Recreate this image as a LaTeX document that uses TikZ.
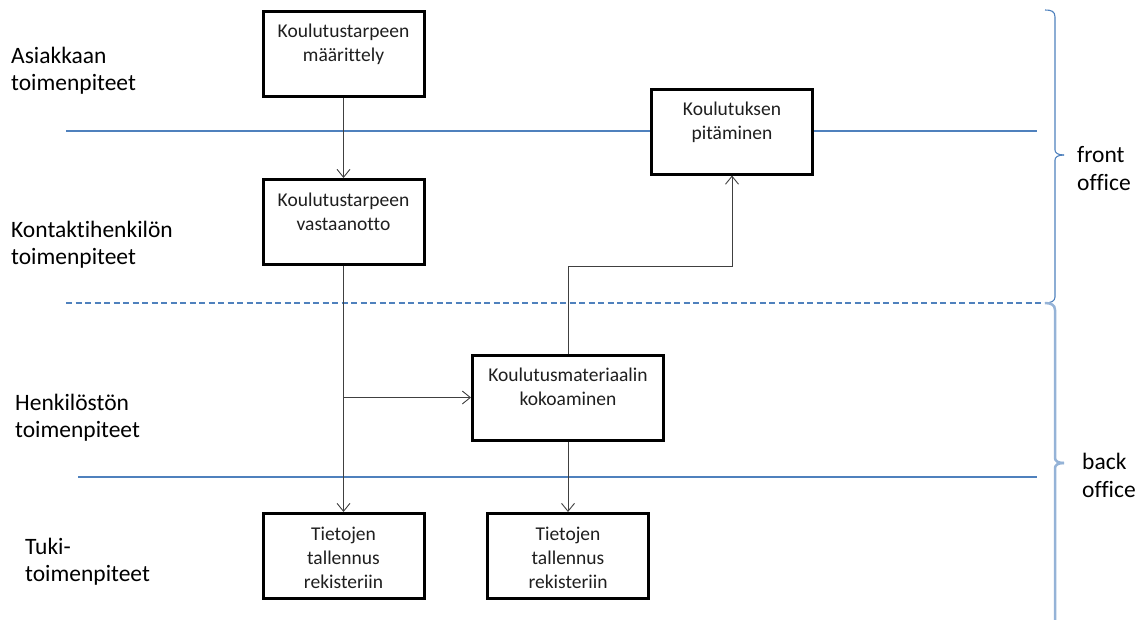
\documentclass[tikz,border=0pt]{standalone}
\usepackage{fontspec}
\setmainfont[Ligatures=CommonOff]{Carlito}
\usetikzlibrary{arrows.meta,calc}
\definecolor{laneblue}{HTML}{4F81BD}
\definecolor{lightlane}{HTML}{95B3D7}
\definecolor{flowgray}{HTML}{404040}
\definecolor{inktext}{HTML}{1F1F1F}
\begin{document}
\begin{tikzpicture}[x=1pt,y=-1pt,
  stepbox/.style={draw=black, line width=3pt, fill=white, inner sep=0pt,
    minimum height=85pt, minimum width=#1, text width=#1, align=center,
    text=inktext, font=\fontsize{19.5}{24}\selectfont,
    text height=18pt, text depth=50pt},
  stepbox/.default=161pt,
  lane/.style={draw=laneblue, line width=1.1pt},
  flow/.style={draw=flowgray, line width=0.9pt,
    -{Straight Barb[length=8pt,width=13pt,line width=0.9pt]}},
  lanelabel/.style={anchor=base west, align=left, text width=220pt,
    inner sep=0pt, font=\fontsize{23.5}{27}\selectfont},
  sidelabel/.style={anchor=base west, align=left, text width=70pt,
    inner sep=0pt, font=\fontsize{23.5}{28.5}\selectfont},
  frontbrace/.style={draw=laneblue, line width=1.1pt},
  backbrace/.style={draw=lightlane, line width=2.5pt}]

\useasboundingbox (0,0) rectangle (1145,619);

% lane separators
\draw[lane] (66,131) -- (1037,131);
\draw[lane, dash pattern=on 6pt off 3.5pt] (66,303) -- (1045,303);
\draw[lane] (78,477) -- (1037,477);

% braces on the right
\draw[frontbrace] (1045,10) .. controls (1051,10) and (1055,11) .. (1055,17)
  -- (1055,150) .. controls (1055,153) and (1058,155) .. (1064,155);
\draw[frontbrace] (1064,155) .. controls (1058,155) and (1055,157) .. (1055,160)
  -- (1055,297) .. controls (1055,301) and (1051,303) .. (1045,303);
\draw[backbrace] (1045,303) .. controls (1051,303) and (1055,305) .. (1055,310)
  -- (1055,458) .. controls (1055,461) and (1058,463) .. (1064,463);
\draw[backbrace] (1064,463) .. controls (1058,463) and (1055,465) .. (1055,468)
  -- (1055,630);

% lane labels
\node[lanelabel] (l1) at (11,63) {Asiakkaan\\toimenpiteet};
\node[lanelabel] (l2) at (11,237) {Kontaktihenkilön\\toimenpiteet};
\node[lanelabel] (l3) at (15,410) {Henkilöstön\\toimenpiteet};
\node[lanelabel] (l4) at (25,554) {Tuki-\\toimenpiteet};
\node[sidelabel] (fo) at (1077,162) {front\\office};
\node[sidelabel] (bo) at (1082,469) {back\\office};

% process steps
\node[stepbox] (b1) at (343.5,53.5) {Koulutustarpeen\\määrittely};
\node[stepbox] (b2) at (343.5,222) {Koulutustarpeen\\vastaanotto};
\node[stepbox] (b3) at (732,131.5) {Koulutuksen\\pitäminen};
\node[stepbox=191pt] (b4) at (568,397.5) {Koulutusmateriaalin\\kokoaminen};
\node[stepbox] (b5) at (343.5,556) {Tietojen\\tallennus\\rekisteriin};
\node[stepbox] (b6) at (568,556) {Tietojen\\tallennus\\rekisteriin};

% flow
\draw[flow] (b1.south) -- (b2.north);
\draw[flow] (b2.south) -- (b5.north);
\draw[flow] (b2.south |- b4.west) -- (b4.west);
\draw[flow] (b4.south) -- (b6.north);
\draw[flow] (b4.north) |- (b3.south |- b2.south) -- (b3.south);

\end{tikzpicture}
\end{document}
